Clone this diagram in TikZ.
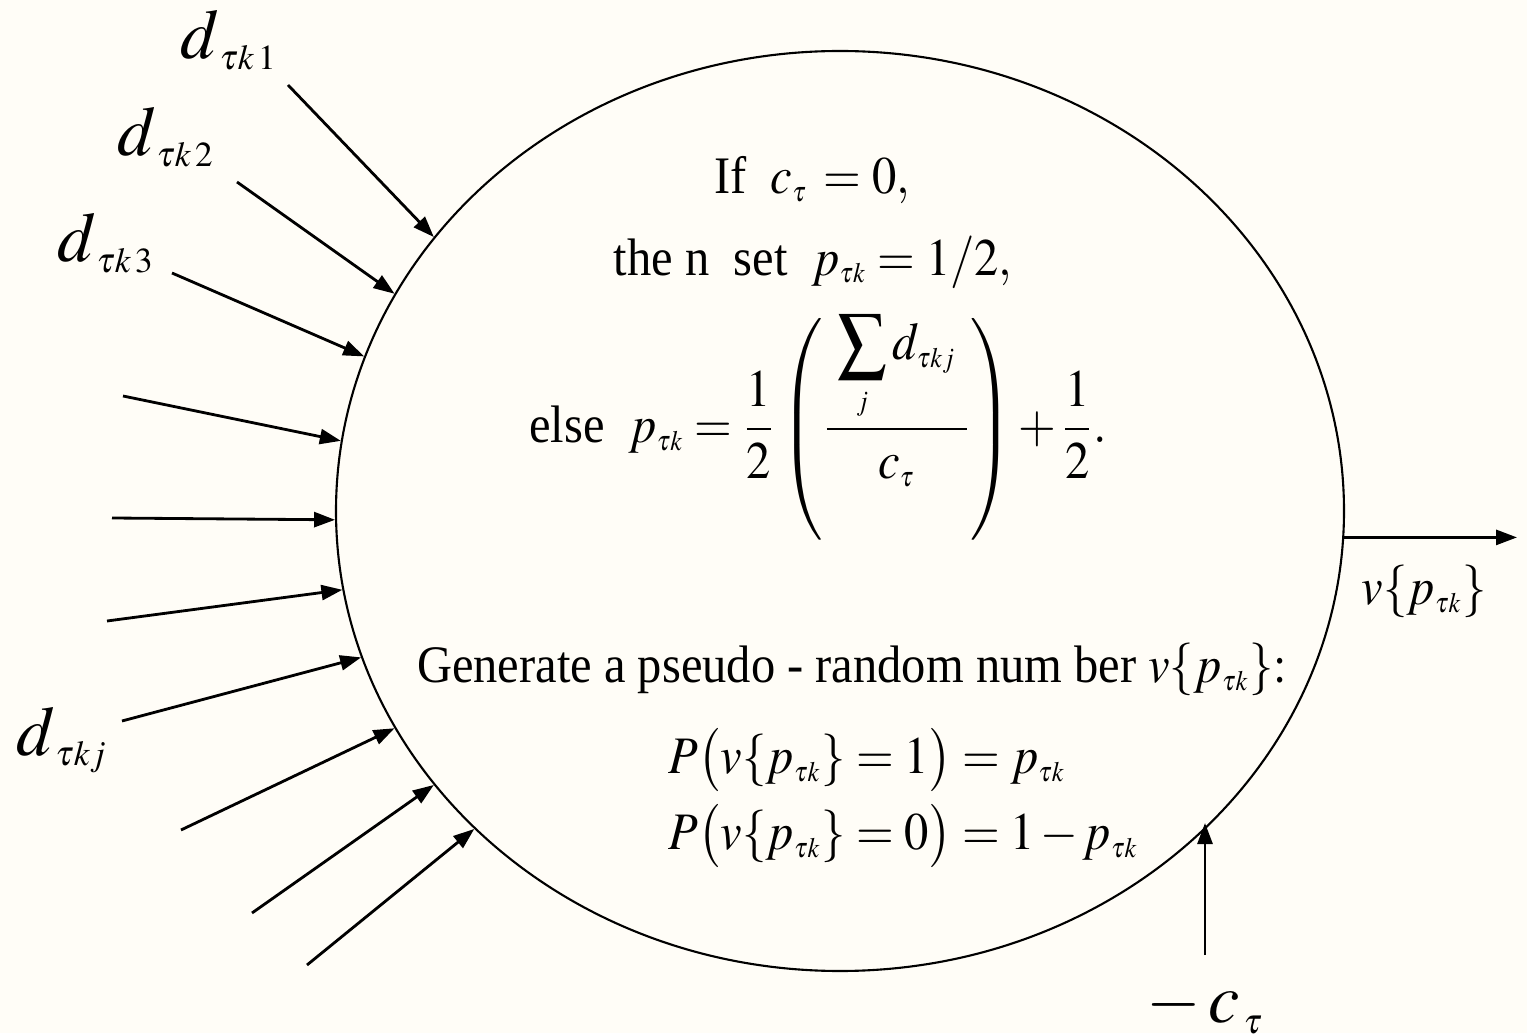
\documentclass[tikz,border=0pt]{standalone}
\usepackage{amsmath}
\usepackage{graphicx}
\usepackage{mathptmx}
\usepackage[no-math]{fontspec}
\setmainfont{Liberation Serif}
\usepackage{tikz}
\usetikzlibrary{shapes.geometric,arrows.meta,positioning}
\definecolor{bgcream}{RGB}{255,253,247}
\DeclareMathSizes{15}{15}{8}{6}
\DeclareMathSizes{20}{20}{10}{7}
\newcommand{\squeeze}[1]{\scalebox{0.92}[1]{#1}}
\newcommand{\rulefont}{\fontsize{15}{18}\selectfont
    \thickmuskip=4mu\relax\medmuskip=2mu\relax}
\tikzset{
    unit/.style={draw, ellipse, line width=0.6pt,
                 minimum width=10.08cm, minimum height=9.2cm, inner sep=0pt},
    lbl/.style={font=\fontsize{20}{24}\selectfont, inner sep=0pt},
    txt/.style={font=\rulefont, inner sep=0pt},
}

\begin{document}
\begin{tikzpicture}[
    arr/.style={-{Triangle[length=2.1mm, width=1.5mm]}, line width=0.8pt}
]
    \fill[bgcream] (0,0) rectangle (15.27,10.33);
    \useasboundingbox (0,0) rectangle (15.27,10.33);

    \node[unit] (neuron) at (8.40,5.22) {};

    % inputs
    \coordinate (in1) at (2.88,9.48);
    \coordinate (in2) at (2.37,8.51);
    \coordinate (in3) at (1.72,7.60);
    \coordinate (in4) at (1.23,6.37);
    \coordinate (in5) at (1.12,5.15);
    \coordinate (in6) at (1.07,4.12);
    \coordinate (in7) at (1.22,3.12);
    \coordinate (in8) at (1.81,2.03);
    \coordinate (in9) at (2.52,1.20);
    \coordinate (in10) at (3.07,0.68);
    \coordinate (bias) at (12.05,0.78);
    \coordinate (out) at (15.17,4.98);

    \draw[arr] (in1) -- (neuron.146);
    \draw[arr] (in2) -- (neuron.154);
    \draw[arr] (in3) -- (neuron.162);
    \draw[arr] (in4) -- (neuron.172);
    \draw[arr] (in5) -- (neuron.181);
    \draw[arr] (in6) -- (neuron.189);
    \draw[arr] (in7) -- (neuron.197);
    \draw[arr] (in8) -- (neuron.206);
    \draw[arr] (in9) -- (neuron.214);
    \draw[arr] (in10) -- (neuron.221);
    \draw[arr] (bias) -- (bias |- neuron.320);
    \draw[arr] (neuron.357) -- (neuron.357 -| out);

    % labels
    \node[lbl] (d1) at (2.29,9.93) {$d_{\,\tau k\,1}$};
    \node[lbl] (d2) at (1.66,8.96) {$d_{\,\tau k\,2}$};
    \node[lbl] (d3) at (1.06,7.90) {$d_{\,\tau k\,3}$};
    \node[lbl] (dj) at (0.62,2.93) {$d_{\,\tau kj}$};
    \node[lbl] (ctau) at (12.05,0.25) {$-\,c_{\,\tau}$};
    \node[txt] (vout) at (14.24,4.41) {\squeeze{$v\{p_{\tau k}\}$}};

    % rule inside the unit
    \node[txt] (cond) at (8.12,8.53) {\squeeze{If\ \ $c_\tau\, = 0,$}};
    \node[txt] (then) at (8.13,7.71) {\squeeze{the n\ \ set\ \ $p_{\tau k} = 1/2,$}};
    \node[txt] (rule) at (8.18,6.06)
        {\squeeze{else\ \ $p_{\tau k} = \dfrac{1}{2}\left(\dfrac{\;\displaystyle\sum_j d_{\tau kj}\;}{c_\tau}\right) + \dfrac{1}{2}.$}};
    \node[txt] (gen) at (8.52,3.63) {\squeeze{Generate a pseudo - random num ber $v\{p_{\tau k}\}{:}$}};
    \node[txt, anchor=west] (prob1) at (6.68,2.73) {\squeeze{$P\bigl(v\{p_{\tau k}\} = 1\bigr) = p_{\tau k}$}};
    \node[txt, anchor=west] (prob0) at (6.68,1.97) {\squeeze{$P\bigl(v\{p_{\tau k}\} = 0\bigr) = 1 - p_{\tau k}$}};
\end{tikzpicture}
\end{document}
